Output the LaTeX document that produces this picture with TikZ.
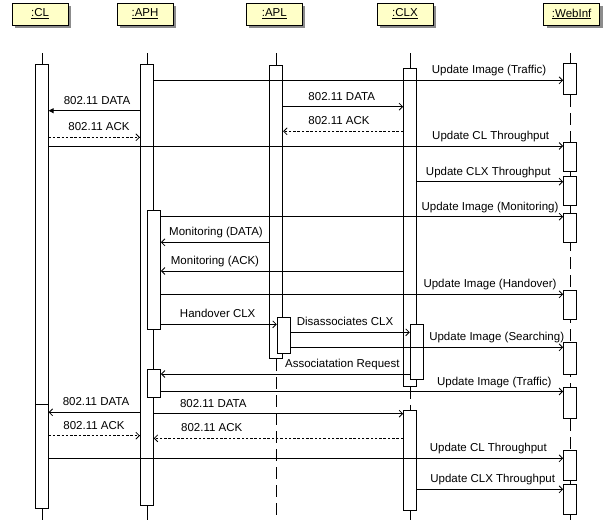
\documentclass[tikz,border=0pt]{standalone}
\usepackage{fontspec}
\setmainfont{Liberation Sans}
\usetikzlibrary{arrows.meta, shadows, backgrounds, positioning}

\definecolor{headfill}{HTML}{FFFFC8}

\tikzset{
    head/.style={draw, fill=headfill, minimum width=56pt, minimum height=22pt,
        inner sep=0pt, drop shadow={shadow xshift=3pt, shadow yshift=-3pt,
        fill=black!45, opacity=1}},
    act/.style={draw, fill=white, minimum width=13pt, inner sep=0pt, anchor=north},
    msg/.style={-{Straight Barb[length=3.5pt,width=7pt]}},
    ackmsg/.style={msg, dash pattern=on 2.5pt off 1.8pt},
    lbl/.style={anchor=base, inner sep=0pt, yshift=6.5pt},
    life/.style={dash pattern=on 12pt off 6pt}
}

\begin{document}
\begin{tikzpicture}[x=1pt, y=-1pt, line width=0.8pt,
    font=\fontsize{11.5}{13}\selectfont]
\useasboundingbox (0,0) rectangle (607,520);

% heads
\node[head] (cl)  at (40,14)    {\underline{:CL}};
\node[head] (aph) at (145,14)   {\underline{:APH}};
\node[head] (apl) at (274.3,14) {\underline{:APL}};
\node[head] (clx) at (405,14)   {\underline{:CLX}};
\node[head] (web) at (571.7,14) {\underline{:WebInf}};

% activations
\node[act, minimum height=340pt]   (cl1)  at (41.7,64)   {};
\node[act, minimum height=104pt]   (cl2)  at (41.7,404)  {};
\node[act, minimum height=441pt]   (aph1) at (146.8,64)  {};
\node[act, minimum height=118.7pt] (aph2) at (154,210)   {};
\node[act, minimum height=28.3pt]  (aph3) at (154,369)   {};
\node[act, minimum height=293.6pt] (apl1) at (276.2,64.7) {};
\node[act, minimum height=35.4pt]  (apl2) at (283.7,317.3) {};
\node[act, minimum height=317.7pt] (clx1) at (410,68.3)  {};
\node[act, minimum height=55.3pt]  (clx2) at (416.7,324) {};
\node[act, minimum height=100pt]   (clx3) at (410,410.3) {};
\node[act, minimum height=31pt]    (web1) at (570,63.3)  {};
\node[act, minimum height=28.7pt]  (web2) at (570,142.3) {};
\node[act, minimum height=29.3pt]  (web3) at (570,176)   {};
\node[act, minimum height=29.6pt]  (web4) at (570,212.7) {};
\node[act, minimum height=28.7pt]  (web5) at (570,290)   {};
\node[act, minimum height=32.6pt]  (web6) at (570,341.7) {};
\node[act, minimum height=31pt]    (web7) at (570,387.3) {};
\node[act, minimum height=29.4pt]  (web8) at (570,450.3) {};
\node[act, minimum height=29.7pt]  (web9) at (570,484.3) {};

% lifelines
\begin{scope}[on background layer]
\draw (cl1.north |- 0,53) -- (cl1.north);
\draw (cl2.south) -- (cl2.south |- 0,520);
\draw (aph1.north |- 0,53) -- (aph1.north);
\draw (aph1.south) -- (aph1.south |- 0,520);
\draw (apl1.north |- 0,53) -- (apl1.north);
\draw[life] (apl1.south) -- (apl1.south |- 0,520);
\draw (clx1.north |- 0,53) -- (clx1.north);
\draw[life] (clx1.south) -- (clx3.north);
\draw (clx3.south) -- (clx3.south |- 0,520);
\draw (web1.north |- 0,53) -- (web1.north);
\draw[life] (web1.south) -- (web9.south);
\draw (web9.south) -- (web9.south |- 0,520);
\end{scope}

% messages
\draw[msg] (aph1.east |- 0,80.3) -- (web1.west |- 0,80.3)
    node[lbl] at (489,80.3) {Update Image (Traffic)};
\draw[-{Triangle[length=5pt,width=5pt]}] (aph1.west |- 0,110.7) -- (cl1.east |- 0,110.7)
    node[lbl] at (97,110.7) {802.11 DATA};
\draw[msg] (apl1.east |- 0,106.7) -- (clx1.west |- 0,106.7)
    node[lbl] at (341.7,106.7) {802.11 DATA};
\draw[ackmsg] (cl1.east |- 0,137.3) -- (aph1.west |- 0,137.3)
    node[lbl] at (99,137.3) {802.11 ACK};
\draw[ackmsg] (clx1.west |- 0,131.3) -- (apl1.east |- 0,131.3)
    node[lbl] at (339,131.3) {802.11 ACK};
\draw[msg] (cl1.east |- 0,146) -- (web2.west |- 0,146)
    node[lbl] at (490.7,146) {Update CL Throughput};
\draw[msg] (clx1.east |- 0,181.7) -- (web3.west |- 0,181.7)
    node[lbl] at (488.3,181.7) {Update CLX Throughput};
\draw[msg] (aph2.east |- 0,216.7) -- (web4.west |- 0,216.7)
    node[lbl] at (490,216.7) {Update Image (Monitoring)};
\draw[msg] (apl1.west |- 0,242.3) -- (aph2.east |- 0,242.3)
    node[lbl] at (216,242.3) {Monitoring (DATA)};
\draw[msg] (clx1.west |- 0,271) -- (aph2.east |- 0,271)
    node[lbl] at (215,271) {Monitoring (ACK)};
\draw[msg] (aph2.east |- 0,294.3) -- (web5.west |- 0,294.3)
    node[lbl] at (490,294.3) {Update Image (Handover)};
\draw[msg] (aph2.east |- 0,324.3) -- (apl2.west |- 0,324.3)
    node[lbl] at (217.7,324.3) {Handover CLX};
\draw[msg] (apl2.east |- 0,332.3) -- (clx2.west |- 0,332.3)
    node[lbl] at (345,332.3) {Disassociates CLX};
\draw[msg] (apl2.east |- 0,347.3) -- (web6.west |- 0,347.3)
    node[lbl] at (496.7,347.3) {Update Image (Searching)};
\draw[msg] (clx2.west |- 0,374) -- (aph3.east |- 0,374)
    node[lbl] at (342.3,374) {Associatation Request};
\draw[msg] (aph3.east |- 0,391.5) -- (web7.west |- 0,391.5)
    node[lbl] at (494.3,391.5) {Update Image (Traffic)};
\draw[msg] (aph1.west |- 0,412.3) -- (cl2.east |- 0,412.3)
    node[lbl] at (96,412.3) {802.11 DATA};
\draw[msg] (aph1.east |- 0,413.7) -- (clx3.west |- 0,413.7)
    node[lbl] at (213.3,413.7) {802.11 DATA};
\draw[ackmsg] (cl2.east |- 0,435.7) -- (aph1.west |- 0,435.7)
    node[lbl] at (94,435.7) {802.11 ACK};
\draw[ackmsg] (clx3.west |- 0,438.3) -- (aph1.east |- 0,438.3)
    node[lbl] at (211.7,438.3) {802.11 ACK};
\draw[msg] (cl2.east |- 0,458.3) -- (web8.west |- 0,458.3)
    node[lbl] at (488.3,458.3) {Update CL Throughput};
\draw[msg] (clx3.east |- 0,489.3) -- (web9.west |- 0,489.3)
    node[lbl] at (492.7,489.3) {Update CLX Throughput};
\end{tikzpicture}
\end{document}
